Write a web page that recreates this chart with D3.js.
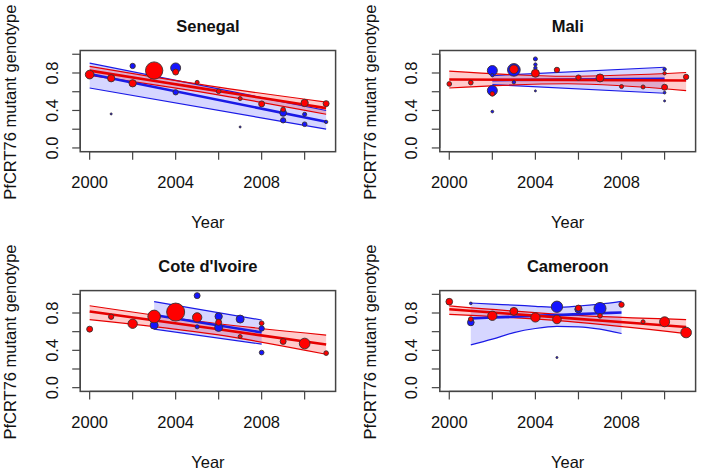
<!DOCTYPE html>
<html><head><meta charset="utf-8">
<script src="https://cdn.jsdelivr.net/npm/d3@7/dist/d3.min.js"></script>
<style>
body{margin:0;background:#fff}
text{font-family:"Liberation Sans",Arial,Helvetica,sans-serif;fill:#111}
</style>
</head><body>
<svg id="chart" width="701" height="472"></svg>
<script>
// ---------- DATA ----------
const countries = ["Senegal", "Mali", "Cote d'Ivoire", "Cameroon"];
const xTicks = [2000, 2002, 2004, 2006, 2008, 2010];
const xTickLabels = [2000, 2004, 2008];
const yTicks = [0, 0.2, 0.4, 0.6, 0.8, 1.0];
const yTickLabels = [0.0, 0.4, 0.8];
const yLabel = "PfCRT76 mutant genotype";
const xLabel = "Year";

// points: [year, proportion mutant, sample size]
const senegalBlue = [[2001,0.363,5],[2002,0.875,35],[2004,0.854,123],[2004,0.594,35],[2007,0.224,5],
  [2009,0.374,55],[2009,0.295,35],[2010,0.359,20],[2010,0.253,27],[2011,0.278,14]];
const senegalRed = [[2000,0.783,93],[2001,0.744,66],[2002,0.69,66],[2003,0.826,371],[2004,0.81,44],
  [2005,0.70,20],[2006,0.605,27],[2007,0.527,20],[2008,0.47,44],[2009,0.41,27],[2010,0.48,66],[2011,0.473,44]];

const maliBlue = [[2002,0.826,123],[2002,0.612,123],[2002,0.776,14],[2002,0.388,9],[2003,0.833,198],
  [2003,0.701,14],[2004,0.95,20],[2004,0.89,14],[2004,0.854,14],[2004,0.609,5],[2010,0.84,14],[2010,0.59,9],[2010,0.502,5]];
const maliRed = [[2000,0.683,27],[2001,0.697,27],[2002,0.577,27],[2003,0.84,93],[2004,0.797,79],
  [2005,0.833,35],[2006,0.751,35],[2007,0.747,79],[2008,0.655,20],[2009,0.651,20],[2010,0.648,44],[2010,0.797,14],[2011,0.758,35]];

const ivoireBlue = [[2003,0.67,79],[2005,0.986,44],[2005,0.652,20],[2006,0.763,66],[2006,0.645,79],
  [2007,0.735,79],[2008,0.634,35],[2008,0.376,27]];
const ivoireRed = [[2000,0.627,44],[2001,0.76,35],[2002,0.685,108],[2003,0.763,198],[2004,0.81,400],
  [2005,0.753,108],[2006,0.70,44],[2007,0.548,20],[2008,0.69,27],[2009,0.495,44],[2010,0.473,140],[2011,0.37,27]];

const cameroonBlue = [[2001,0.903,9],[2001,0.699,55],[2005,0.867,159],[2005,0.323,5],[2006,0.84,66],[2007,0.849,178]];
const cameroonRed = [[2000,0.921,55],[2001,0.735,27],[2002,0.77,108],[2003,0.817,79],[2004,0.753,108],
  [2005,0.731,93],[2006,0.853,44],[2007,0.77,27],[2008,0.889,35],[2009,0.706,20],[2010,0.706,123],[2011,0.591,140]];

// fitted trends: [year, lower CI, fit, upper CI]
const senegalBlueFit = [[2000,0.64,0.79,0.905],[2011,0.20,0.28,0.40]];
const senegalRedFit = [[2000,0.775,0.825,0.87],[2005.5,0.585,0.625,0.665],[2011,0.36,0.425,0.49]];
const maliBlueFit = [[2002,0.676,0.724,0.772],[2010,0.584,0.737,0.861]];
const maliRedFit = [[2000,0.64,0.73,0.82],[2005.5,0.685,0.726,0.765],[2011,0.612,0.72,0.805]];
const ivoireBlueFit = [[2003,0.628,0.779,0.922],[2008,0.467,0.592,0.725]];
const ivoireRedFit = [[2000,0.73,0.817,0.878],[2006,0.565,0.625,0.685],[2011,0.358,0.462,0.563]];
const cameroonBlueFit = [[2001,0.459,0.742,0.907],[2002,0.52,0.751,0.895],[2003,0.59,0.76,0.885],[2004,0.634,0.769,0.872],
  [2005,0.656,0.778,0.862],[2006,0.652,0.788,0.875],[2007,0.627,0.797,0.896],[2008,0.58,0.806,0.925]];
const cameroonRedFit = [[2000,0.785,0.84,0.876],[2005.5,0.71,0.745,0.78],[2011,0.58,0.65,0.73]];

const blueSeries = [senegalBlue, maliBlue, ivoireBlue, cameroonBlue];
const redSeries = [senegalRed, maliRed, ivoireRed, cameroonRed];
const blueFits = [senegalBlueFit, maliBlueFit, ivoireBlueFit, cameroonBlueFit];
const redFits = [senegalRedFit, maliRedFit, ivoireRedFit, cameroonRedFit];

// ---------- LAYOUT ----------
const boxes = [
  {x0:80.2, x1:335.6, y0:50.5, y1:151.7},
  {x0:439.8, x1:695.6, y0:50.5, y1:151.7},
  {x0:80.2, x1:335.6, y0:290.6, y1:391.4},
  {x0:439.8, x1:695.6, y0:290.6, y1:391.4}
];
const FS = 16.5;
const svg = d3.select("#chart");
const rScale = d3.scaleSqrt().domain([0, 400]).range([0, 9]);

boxes.forEach((b, i) => {
  const x = d3.scaleLinear().domain([1999.56, 2011.44]).range([b.x0, b.x1]);
  const y = d3.scaleLinear().domain([-0.04, 1.04]).range([b.y1, b.y0]);
  const g = svg.append("g");
  const clipId = "clip" + i;
  svg.append("clipPath").attr("id", clipId).append("rect")
    .attr("x", b.x0).attr("y", b.y0).attr("width", b.x1 - b.x0).attr("height", b.y1 - b.y0);
  const plot = g.append("g").attr("clip-path", `url(#${clipId})`);

  const area = d3.area().x(d => x(d[0])).y0(d => y(d[1])).y1(d => y(d[3])).curve(d3.curveMonotoneX);
  const line = k => d3.line().x(d => x(d[0])).y(d => y(d[k])).curve(d3.curveMonotoneX);

  const bands = [
    {fit: blueFits[i], col: "#0000ff", fill: "#0000ff", op: 0.16, lc: "#1a1ae6"},
    {fit: redFits[i], col: "#ff0000", fill: "#ff0000", op: 0.2, lc: "#e60000"}
  ];
  bands.forEach(s => {
    plot.append("path").datum(s.fit).attr("d", area).attr("fill", s.fill).attr("fill-opacity", s.op).attr("stroke", "none");
  });
  bands.forEach(s => {
    [1, 3].forEach(k => plot.append("path").datum(s.fit).attr("d", line(k))
      .attr("fill", "none").attr("stroke", s.lc).attr("stroke-width", 1.2));
  });
  bands.forEach(s => {
    plot.append("path").datum(s.fit).attr("d", line(2))
      .attr("fill", "none").attr("stroke", s.lc).attr("stroke-width", 2.6);
  });

  // points
  const pts = [{d: blueSeries[i], fill: "#1414ff"}, {d: redSeries[i], fill: "#ff0000"}];
  pts.forEach(s => {
    plot.selectAll(null).data(s.d.slice().sort((a, c) => c[2] - a[2])).enter().append("circle")
      .attr("cx", d => x(d[0])).attr("cy", d => y(d[1])).attr("r", d => rScale(d[2]))
      .attr("fill", s.fill).attr("stroke", "#3a3030").attr("stroke-width", 0.9);
  });

  // box
  g.append("rect").attr("x", b.x0).attr("y", b.y0).attr("width", b.x1 - b.x0).attr("height", b.y1 - b.y0)
    .attr("fill", "none").attr("stroke", "#444").attr("stroke-width", 1.5);

  // x axis
  g.append("line").attr("x1", x(xTicks[0])).attr("x2", x(xTicks[xTicks.length-1]))
    .attr("y1", b.y1).attr("y2", b.y1).attr("stroke", "#444").attr("stroke-width", 1.2);
  xTicks.forEach(t => g.append("line").attr("x1", x(t)).attr("x2", x(t)).attr("y1", b.y1).attr("y2", b.y1 + 8)
    .attr("stroke", "#444").attr("stroke-width", 1.2));
  xTickLabels.forEach(t => g.append("text").attr("x", x(t)).attr("y", b.y1 + 36.7)
    .attr("text-anchor", "middle").attr("font-size", FS).text(t));

  // y axis
  g.append("line").attr("x1", b.x0).attr("x2", b.x0).attr("y1", y(yTicks[0])).attr("y2", y(yTicks[yTicks.length-1]))
    .attr("stroke", "#444").attr("stroke-width", 1.2);
  yTicks.forEach(t => g.append("line").attr("x1", b.x0 - 8).attr("x2", b.x0).attr("y1", y(t)).attr("y2", y(t))
    .attr("stroke", "#444").attr("stroke-width", 1.2));
  yTickLabels.forEach(t => g.append("text")
    .attr("transform", `translate(${b.x0 - 22.5},${y(t)}) rotate(-90)`)
    .attr("text-anchor", "middle").attr("font-size", FS).text(t.toFixed(1)));

  // labels
  const cx = (b.x0 + b.x1) / 2, cy = (b.y0 + b.y1) / 2;
  g.append("text").attr("x", cx).attr("y", b.y0 - 18.4).attr("text-anchor", "middle")
    .attr("font-size", FS).attr("font-weight", "bold").text(countries[i]);
  g.append("text").attr("x", cx).attr("y", b.y1 + 76.5).attr("text-anchor", "middle")
    .attr("font-size", FS).text(xLabel);
  g.append("text").attr("transform", `translate(${b.x0 - 64},${cy + 1}) rotate(-90)`)
    .attr("text-anchor", "middle").attr("font-size", FS).text(yLabel);
});
</script>
</body></html>
